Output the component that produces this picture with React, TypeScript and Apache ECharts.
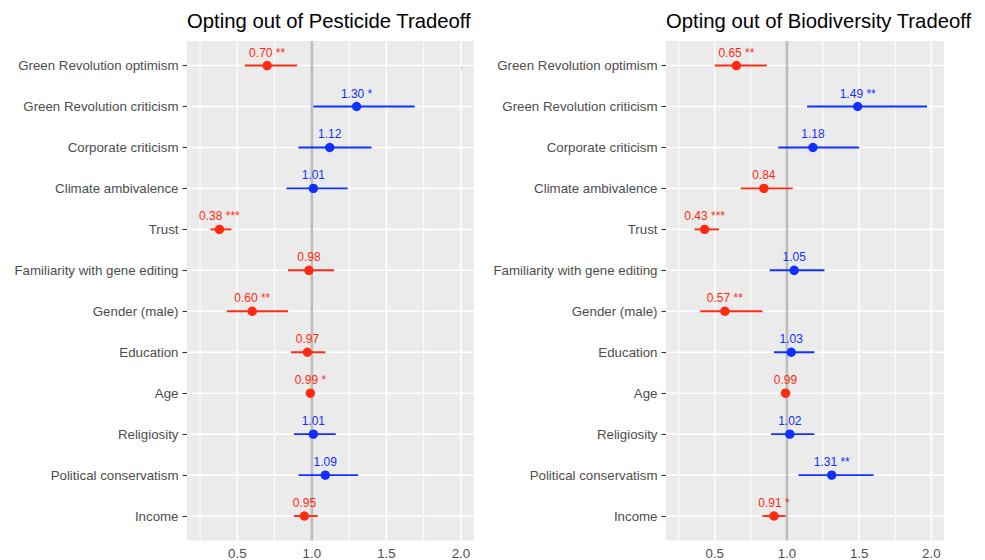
import React, { useEffect, useRef } from "react";
import * as echarts from "echarts";

const categories = [
  "Green Revolution optimism",
  "Green Revolution criticism",
  "Corporate criticism",
  "Climate ambivalence",
  "Trust",
  "Familiarity with gene editing",
  "Gender (male)",
  "Education",
  "Age",
  "Religiosity",
  "Political conservatism",
  "Income",
];

const pestTitle = "Opting out of Pesticide Tradeoff";
const pestEst = [0.70, 1.30, 1.12, 1.01, 0.38, 0.98, 0.60, 0.97, 0.99, 1.01, 1.09, 0.95];
const pestLow = [0.55, 1.01, 0.91, 0.83, 0.32, 0.84, 0.43, 0.86, 0.98, 0.88, 0.91, 0.88];
const pestHigh = [0.90, 1.69, 1.40, 1.24, 0.46, 1.15, 0.84, 1.09, 1.00, 1.16, 1.31, 1.04];
const pestStars = ["**", "*", "", "", "***", "", "**", "", "*", "", "", ""];

const bioTitle = "Opting out of Biodiversity Tradeoff";
const bioEst = [0.65, 1.49, 1.18, 0.84, 0.43, 1.05, 0.57, 1.03, 0.99, 1.02, 1.31, 0.91];
const bioLow = [0.50, 1.14, 0.94, 0.68, 0.36, 0.88, 0.40, 0.91, 0.98, 0.89, 1.08, 0.83];
const bioHigh = [0.86, 1.97, 1.50, 1.04, 0.53, 1.26, 0.83, 1.19, 1.00, 1.19, 1.60, 0.99];
const bioStars = ["**", "**", "", "", "***", "", "**", "", "", "", "**", "*"];

const xTicks = [0.5, 1.0, 1.5, 2.0];
const xMinor = [0.25, 0.75, 1.25, 1.75];
const refValue = 1.0;
const xMin = 0.1625;
const xMax = 2.0875;

const RED = "#ff2a10";
const BLUE = "#1030ff";
const FONT = "Liberation Sans, Arial, Helvetica, sans-serif";

const rowIdx = categories.map((_, i) => i);

function buildPanel(
  gi: number,
  est: number[],
  low: number[],
  high: number[],
  stars: string[]
) {
  const series: any[] = [];
  // grid lines: vertical major/minor and horizontal rows, drawn as thin rects
  const gridData: number[][] = [
    ...xTicks.map((v) => [v, 0, 1]),
    ...xMinor.map((v) => [v, 0, 0]),
    ...rowIdx.map((r) => [1, r, 2]),
  ];
  series.push({
    type: "custom",
    xAxisIndex: gi,
    yAxisIndex: gi,
    z: 2,
    silent: true,
    data: gridData,
    renderItem: (params: any, api: any) => {
      const cs = params.coordSys;
      const kind = api.value(2);
      const p = api.coord([api.value(0), api.value(1)]);
      if (kind === 2) {
        const w = 1.6;
        return {
          type: "rect",
          shape: { x: cs.x, y: p[1] - w / 2, width: cs.width, height: w },
          style: { fill: "#ffffff" },
        };
      }
      const w = kind === 1 ? 1.6 : 1.0;
      return {
        type: "rect",
        shape: { x: p[0] - w / 2, y: cs.y, width: w, height: cs.height },
        style: { fill: "#ffffff" },
      };
    },
  });
  // reference line at 1
  series.push({
    type: "custom",
    xAxisIndex: gi,
    yAxisIndex: gi,
    z: 3,
    silent: true,
    data: [[refValue, 0]],
    renderItem: (params: any, api: any) => {
      const cs = params.coordSys;
      const p = api.coord([api.value(0), api.value(1)]);
      const w = 2.6;
      return {
        type: "rect",
        shape: { x: p[0] - w / 2, y: cs.y, width: w, height: cs.height },
        style: { fill: "#bdbdbd" },
      };
    },
  });
  // estimates with CIs and labels
  series.push({
    type: "custom",
    xAxisIndex: gi,
    yAxisIndex: gi,
    z: 4,
    silent: true,
    data: rowIdx.map((r) => [est[r], r, low[r], high[r]]),
    renderItem: (params: any, api: any) => {
      const i = params.dataIndex;
      const e = api.value(0);
      const r = api.value(1);
      const p = api.coord([e, r]);
      const l = api.coord([api.value(2), r]);
      const h = api.coord([api.value(3), r]);
      const color = e < 1 ? RED : BLUE;
      const label = e.toFixed(2) + (stars[i] ? " " + stars[i] : "");
      return {
        type: "group",
        children: [
          {
            type: "line",
            shape: { x1: l[0], y1: l[1], x2: h[0], y2: h[1] },
            style: { stroke: color, lineWidth: 1.9 },
          },
          {
            type: "circle",
            shape: { cx: p[0], cy: p[1], r: 4.7 },
            style: { fill: color },
          },
          {
            type: "text",
            x: p[0],
            y: p[1] - 13,
            style: {
              text: label,
              fill: color,
              font: `12px ${FONT}`,
              align: "center",
              verticalAlign: "middle",
            },
          },
        ],
      };
    },
  });
  return series;
}

export default function App() {
  const ref = useRef<HTMLDivElement>(null);
  useEffect(() => {
    if (!ref.current) return;
    const chart = echarts.init(ref.current, null, { renderer: "svg" });
    const gridTop = 41;
    const gridHeight = 499.6;
    const grids = [
      { left: 187, top: gridTop, width: 287, height: gridHeight },
      { left: 666, top: gridTop, width: 278, height: gridHeight },
    ].map((g) => ({
      ...g,
      show: true,
      backgroundColor: "#ebebeb",
      borderWidth: 0,
      containLabel: false,
      outerBoundsMode: "none",
    }));
    const xAxes = [0, 1].map((gi) => ({
      type: "value",
      gridIndex: gi,
      min: xMin,
      max: xMax,
      axisLine: { show: false },
      splitLine: { show: false },
      axisTick: {
        show: true,
        customValues: xTicks,
        length: 4.5,
        lineStyle: { color: "#333333", width: 1.1 },
      },
      axisLabel: {
        customValues: xTicks,
        formatter: (v: number) => v.toFixed(1),
        color: "#4d4d4d",
        fontSize: 13.3,
        lineHeight: 14,
        fontFamily: FONT,
        margin: 5.5,
      },
    }));
    const yAxes = [0, 1].map((gi) => ({
      type: "value",
      gridIndex: gi,
      min: -0.6,
      max: categories.length - 1 + 0.6,
      inverse: true,
      axisLine: { show: false },
      splitLine: { show: false },
      axisTick: {
        show: true,
        customValues: rowIdx,
        length: 4.5,
        lineStyle: { color: "#333333", width: 1.1 },
      },
      axisLabel: {
        customValues: rowIdx,
        formatter: (v: number) => categories[Math.round(v)] ?? "",
        color: "#4d4d4d",
        fontSize: 13.3,
        fontFamily: FONT,
        margin: 8.5,
      },
    }));
    chart.setOption({
      animation: false,
      backgroundColor: "#ffffff",
      title: [
        {
          text: pestTitle,
          left: 187,
          top: 11,
          padding: 0,
          textStyle: { fontSize: 20.3, fontWeight: "normal", color: "#000000", fontFamily: FONT },
        },
        {
          text: bioTitle,
          left: 666,
          top: 11,
          padding: 0,
          textStyle: { fontSize: 20.3, fontWeight: "normal", color: "#000000", fontFamily: FONT },
        },
      ],
      grid: grids,
      xAxis: xAxes,
      yAxis: yAxes,
      series: [
        ...buildPanel(0, pestEst, pestLow, pestHigh, pestStars),
        ...buildPanel(1, bioEst, bioLow, bioHigh, bioStars),
      ],
    });
    return () => chart.dispose();
  }, []);
  return (
    <div
      ref={ref}
      style={{ position: "fixed", left: 0, top: 0, width: 985, height: 560 }}
    />
  );
}
